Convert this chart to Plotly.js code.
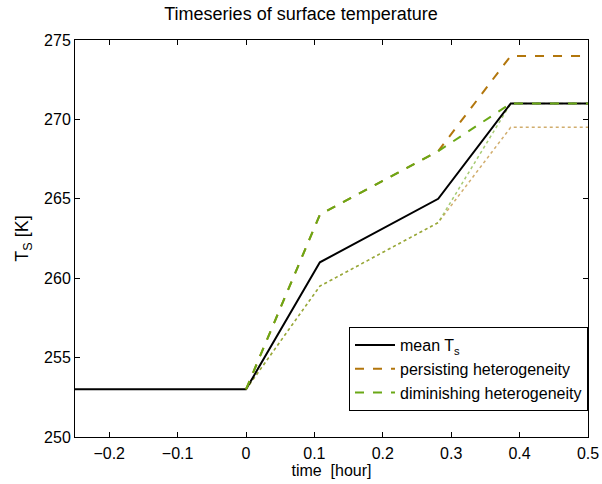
<!DOCTYPE html>
<html><head><meta charset="utf-8">
<script src="https://cdn.plot.ly/plotly-3.0.1.min.js"></script>
<style>body{margin:0;background:#fff}#chart{width:602px;height:484px}</style>
</head><body><div id="chart"></div>
<script>
const time = [-0.25, 0, 0.108, 0.281, 0.387, 0.5];
const meanTs = [253, 253, 261, 265, 271, 271];
const timeHet = [0, 0.108, 0.281, 0.387, 0.5];
const persisting = [253, 264, 268, 274, 274];
const diminishing = [253, 264, 268, 271, 271];
const persistingLow = [253, 259.5, 263.5, 269.5, 269.5];
const diminishingLow = [253, 259.5, 263.5, 271, 271];
const xTicks = [-0.2, -0.1, 0, 0.1, 0.2, 0.3, 0.4, 0.5];
const yTicks = [250, 255, 260, 265, 270, 275];

const brown = 'rgb(178,118,12)';
const green = 'rgb(106,168,22)';

const traces = [
  {x: timeHet, y: persistingLow, mode: 'lines', showlegend: false, line: {color: 'rgba(178,118,12,0.6)', width: 1.5, dash: 'dot'}},
  {x: timeHet, y: diminishingLow, mode: 'lines', showlegend: false, line: {color: 'rgba(106,168,22,0.6)', width: 1.5, dash: 'dot'}},
  {x: time, y: meanTs, mode: 'lines', name: 'mean T<sub>s</sub>', line: {color: '#000', width: 2}},
  {x: timeHet, y: persisting, mode: 'lines', name: 'persisting heterogeneity', line: {color: brown, width: 2, dash: 'dash'}},
  {x: timeHet, y: diminishing, mode: 'lines', name: 'diminishing heterogeneity', line: {color: green, width: 2, dash: 'dash'}}
];

const layout = {
  width: 602, height: 484,
  margin: {l: 75, r: 14, t: 40, b: 47},
  paper_bgcolor: '#fff', plot_bgcolor: '#fff',
  font: {family: 'Liberation Sans, Arial, sans-serif', size: 16, color: '#000'},
  title: {text: 'Timeseries of surface temperature', font: {size: 18}, x: 0.5, xanchor: 'center', yref: 'container', y: 0.971, yanchor: 'middle'},
  xaxis: {range: [-0.25, 0.5], tickvals: xTicks, ticktext: xTicks.map(v => v === 0 ? '0' : (v < 0 ? '\u2212' + Math.abs(v) : String(v))),
    ticks: 'inside', ticklen: 5, tickcolor: '#000', showline: true, linecolor: '#000', linewidth: 1, mirror: 'ticks', ticklabelstandoff: 2,
    showgrid: false, zeroline: false, title: {text: 'time  [hour]', standoff: 2, font: {size: 16}}},
  yaxis: {range: [250, 275], tickvals: yTicks, ticks: 'inside', ticklen: 5, tickcolor: '#000', showline: true, linecolor: '#000', linewidth: 1, mirror: 'ticks',
    showgrid: false, zeroline: false, title: {text: 'T<sub>S</sub> [K]', standoff: 10, font: {size: 18}}},
  legend: {x: 1, y: 0.277, xanchor: 'right', yanchor: 'top', bordercolor: '#000', borderwidth: 1, bgcolor: '#fff',
    font: {size: 16}, tracegroupgap: 0, itemwidth: 40},
  showlegend: true
};
Plotly.newPlot('chart', traces, layout, {displayModeBar: false, staticPlot: true});
</script></body></html>
